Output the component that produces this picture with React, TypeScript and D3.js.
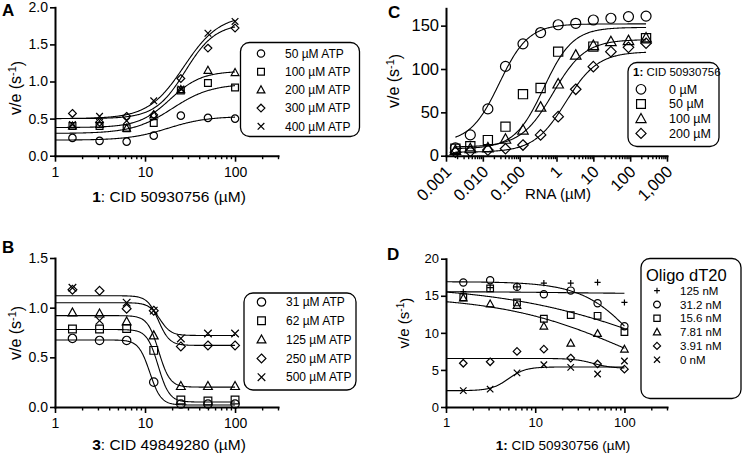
import React, { useRef, useEffect } from 'react';
import * as d3 from 'd3';

const FONT = '"Liberation Sans", Arial, Helvetica, sans-serif';

// compound doses (µM) used in A, B and D
const cidDoses = [1.5625, 3.125, 6.25, 12.5, 25, 50, 100];
// RNA doses (µM) used in C
const rnaDoses = [0.0018, 0.00457, 0.0137, 0.0412, 0.123, 0.37, 1.11, 3.33, 10, 30, 90, 270];

// ---- Panel A ----
const aNames = ['50 µM ATP', '100 µM ATP', '200 µM ATP', '300 µM ATP', '400 µM ATP'];
const aAtp50 = [0.24, 0.2, 0.19, 0.27, 0.54, 0.51, 0.5];
const aAtp100 = [0.4, 0.4, 0.37, 0.44, 0.88, 0.98, 0.92];
const aAtp200 = [0.4, 0.42, 0.37, 0.55, 0.89, 1.15, 1.12];
const aAtp300 = [0.57, 0.45, 0.53, 0.55, 1.04, 1.45, 1.72];
const aAtp400 = [0.42, 0.53, 0.47, 0.74, 0.9, 1.65, 1.81];
// fit curves: [value at low dose, value at high dose, midpoint, hill]
const aFits = [[0.21, 0.53, 18, 2], [0.3, 0.97, 20, 2], [0.38, 1.14, 19, 2.5], [0.5, 1.78, 28, 2.6], [0.5, 1.9, 27, 2.2]];
const aTicks = [0, 0.5, 1, 1.5, 2];

// ---- Panel B ----
const bNames = ['31 µM ATP', '62 µM ATP', '125 µM ATP', '250 µM ATP', '500 µM ATP'];
const bAtp31 = [0.69, 0.67, 0.67, 0.25, 0.03, 0.03, 0.03];
const bAtp62 = [0.785, 0.785, 0.79, 0.57, 0.07, 0.06, 0.07];
const bAtp125 = [0.95, 0.94, 0.86, 0.72, 0.21, 0.21, 0.21];
const bAtp250 = [1.18, 1.17, 0.99, 0.97, 0.61, 0.62, 0.62];
const bAtp500 = [1.2, 0.87, 1.05, 0.97, 0.69, 0.74, 0.74];
const bFits = [[0.675, 0.02, 11.3, 7], [0.78, 0.05, 14, 7], [0.92, 0.2, 14.2, 7], [1.12, 0.62, 14.1, 7], [1.05, 0.72, 14.6, 7]];
const bTicks = [0, 0.5, 1, 1.5];

// ---- Panel C ----
const cNames = ['0 µM', '50 µM', '100 µM', '200 µM'];
const cCid0 = [9, 24, 54, 103, 129, 142, 151, 152.7, 156.5, 158.5, 160.4, 161];
const cCid50 = [8, 11, 18, 33.5, 71, 78, 120, null, 125.8, null, null, 135.5];
const cCid100 = [6, 8, 9, 19, 29.6, 56, 82.7, 116, 127, 131.5, 132.7, 135.8];
const cCid200 = [4, 5, 6.5, 8, 12.3, 24, 45, 76.6, 102.7, 120, 125, 129.7];
const cFits = [[15, 152, 0.028, 1.1], [8, 148, 0.45, 1.1], [10, 134, 0.8, 1.0], [4, 120, 1.8, 1.0]];
const cTicks = [0, 50, 100, 150];

// ---- Panel D ----
const dNames = ['125 nM', '31.2 nM', '15.6 nM', '7.81 nM', '3.91 nM', '0 nM'];
const dOligo125 = [15.55, 16.1, 16.2, 16.7, 16.7, 16.8, 14.1];
const dOligo31 = [16.8, 17.1, 16.2, 15.2, 15.7, 14.0, 10.9];
const dOligo15 = [14.8, 16.0, 14.1, 11.9, 12.4, 12.3, 10.1];
const dOligo7 = [14.7, 13.9, 13.7, 10.9, 8.6, 9.9, 7.8];
const dOligo3 = [5.9, 6.1, 7.5, 7.8, 6.6, 5.8, 5.1];
const dOligo0 = [2.2, 2.4, 4.6, 5.7, 5.35, 4.45, 6.2];
const dFits = [[15.55, 15.3, 20, 1], [16.9, 0, 153, 1.4], [16.5, 0, 347, 0.47], [15, 0, 121, 0.6], [6.55, 5.2, 45, 4], [2.2, 5.4, 5, 4.5]];
const dTicks = [0, 5, 10, 15, 20];

const markerPath = (shape: string, r: number) => {
  switch (shape) {
    case 'circle':
      return `M${r},0A${r},${r},0,1,1,${-r},0A${r},${r},0,1,1,${r},0Z`;
    case 'square':
      return `M${-r * 0.92},${-r * 0.92}H${r * 0.92}V${r * 0.92}H${-r * 0.92}Z`;
    case 'triangle':
      return `M0,${-r * 1.1}L${r * 1.05},${r * 0.8}L${-r * 1.05},${r * 0.8}Z`;
    case 'diamond':
      return `M0,${-r * 1.05}L${r * 1.05},0L0,${r * 1.05}L${-r * 1.05},0Z`;
    case 'x':
      return `M${-r * 0.9},${-r * 0.9}L${r * 0.9},${r * 0.9}M${-r * 0.9},${r * 0.9}L${r * 0.9},${-r * 0.9}`;
    default:
      return `M${-r * 0.85},0H${r * 0.85}M0,${-r * 0.85}V${r * 0.85}`;
  }
};

const logFmt = (d: number) => (d >= 1 ? d3.format(',')(d) : d3.format('.3f')(d));

const panels = [
  {
    letter: 'A', letterX: 2, letterY: 16,
    left: 55, right: 278, bottom: 155.7, top: 7.3,
    xDomain: [1, 300], xMajor: [1, 10, 100], yDomain: [0, 2], yTicks: aTicks, yFmt: d3.format('.1f'),
    tickFont: 14, rotate: false,
    doses: cidDoses, series: [aAtp50, aAtp100, aAtp200, aAtp300, aAtp400], fits: aFits, fitRange: [1, 100],
    shapes: ['circle', 'square', 'triangle', 'diamond', 'x'], r: 3.7,
    yLabelX: 15, yLabelY: 88, yLabelFont: 16,
    xLabel: [['1', true], [': CID 50930756 (µM)', false]], xLabelX: 169, xLabelY: 202, xLabelFont: 15.5,
    legend: { x: 240.5, y: 42.5, w: 119, h: 94, title: null, titleFont: 0, symX: 261, textX: 285, row0: 53.5, step: 18.2, font: 12, names: aNames, r: 3.7 },
  },
  {
    letter: 'B', letterX: 2, letterY: 253,
    left: 55, right: 278, bottom: 407, top: 258,
    xDomain: [1, 300], xMajor: [1, 10, 100], yDomain: [0, 1.5], yTicks: bTicks, yFmt: d3.format('.1f'),
    tickFont: 14, rotate: false,
    doses: cidDoses, series: [bAtp31, bAtp62, bAtp125, bAtp250, bAtp500], fits: bFits, fitRange: [1, 100],
    shapes: ['circle', 'square', 'triangle', 'diamond', 'x'], r: 4.2,
    yLabelX: 15, yLabelY: 333, yLabelFont: 16,
    xLabel: [['3', true], [': CID 49849280 (µM)', false]], xLabelX: 169, xLabelY: 450, xLabelFont: 15.5,
    legend: { x: 244, y: 293, w: 112, h: 97, title: null, titleFont: 0, symX: 261.5, textX: 286, row0: 302, step: 18.8, font: 12, names: bNames, r: 4.2 },
  },
  {
    letter: 'C', letterX: 388, letterY: 18,
    left: 446, right: 667, bottom: 155.7, top: 8.3,
    xDomain: [0.001, 1000], xMajor: [0.001, 0.01, 0.1, 1, 10, 100, 1000], yDomain: [0, 170], yTicks: cTicks, yFmt: d3.format('d'),
    tickFont: 16.5, rotate: true,
    doses: rnaDoses, series: [cCid0, cCid50, cCid100, cCid200], fits: cFits, fitRange: [0.0018, 270],
    shapes: ['circle', 'square', 'triangle', 'diamond'], r: 5,
    yLabelX: 393, yLabelY: 81, yLabelFont: 16,
    xLabel: [['RNA (µM)', false]], xLabelX: 558, xLabelY: 199, xLabelFont: 15,
    legend: { x: 628, y: 62.5, w: 91, h: 84, title: [['1:', true], [' CID 50930756', false]], titleFont: 11.5, symX: 641, textX: 669, row0: 89.3, step: 14.7, font: 12.5, names: cNames, r: 4.8 },
  },
  {
    letter: 'D', letterX: 387, letterY: 260,
    left: 446, right: 667, bottom: 407, top: 258.7,
    xDomain: [1, 300], xMajor: [1, 10, 100], yDomain: [0, 20], yTicks: dTicks, yFmt: d3.format('d'),
    tickFont: 13, rotate: false,
    doses: cidDoses, series: [dOligo125, dOligo31, dOligo15, dOligo7, dOligo3, dOligo0], fits: dFits, fitRange: [1, 100],
    shapes: ['plus', 'circle', 'square', 'triangle', 'diamond', 'x'], r: 3.6,
    yLabelX: 403.5, yLabelY: 323, yLabelFont: 15,
    xLabel: [['1:', true], [' CID 50930756 (µM)', false]], xLabelX: 563, xLabelY: 450, xLabelFont: 13.5,
    legend: { x: 641, y: 258.5, w: 100, h: 140, title: [['Oligo dT20', false]], titleFont: 16.5, symX: 657, textX: 680, row0: 290.7, step: 13.8, font: 11.5, names: dNames, r: 3.4 },
  },
];

const drawPanel = (svg: any, p: any) => {
  const x = d3.scaleLog().domain(p.xDomain).range([p.left, p.right]);
  const y = d3.scaleLinear().domain(p.yDomain).range([p.bottom, p.top]);
  const g = svg.append('g');

  // minor log ticks
  const minor: number[] = [];
  const e0 = Math.floor(Math.log10(p.xDomain[0]));
  const e1 = Math.ceil(Math.log10(p.xDomain[1]));
  for (let e = e0; e <= e1; e++) {
    for (let k = 2; k <= 9; k++) {
      const v = k * Math.pow(10, e);
      if (v > p.xDomain[0] * 1.0001 && v <= p.xDomain[1] * 1.0001) minor.push(v);
    }
  }
  const xm = g.append('g').attr('transform', `translate(0,${p.bottom})`)
    .call(d3.axisBottom(x).tickValues(minor).tickSize(3.5).tickSizeOuter(0).tickFormat(() => ''));
  xm.select('.domain').remove();
  xm.selectAll('line').attr('stroke-width', 1.4);

  const xa = g.append('g').attr('transform', `translate(0,${p.bottom})`)
    .call(d3.axisBottom(x).tickValues(p.xMajor).tickSize(6).tickSizeOuter(0).tickFormat(logFmt).tickPadding(5));
  xa.attr('font-size', p.tickFont).attr('font-family', FONT);
  xa.select('.domain').attr('stroke-width', 2).attr('stroke-linecap', 'square');
  xa.selectAll('line').attr('stroke-width', 1.6);
  if (p.rotate) {
    xa.selectAll('text')
      .attr('x', 0).attr('y', 0).attr('dy', '0.35em')
      .attr('text-anchor', 'end')
      .attr('transform', 'translate(2,13) rotate(-45)');
  }

  const ya = g.append('g').attr('transform', `translate(${p.left},0)`)
    .call(d3.axisLeft(y).tickValues(p.yTicks).tickSize(5).tickSizeOuter(0).tickFormat(p.yFmt).tickPadding(2));
  ya.attr('font-size', p.tickFont).attr('font-family', FONT);
  ya.select('.domain').attr('stroke-width', 2).attr('stroke-linecap', 'square');
  ya.selectAll('line').attr('stroke-width', 1.6);

  // fitted curves
  const [lo, hi] = p.fitRange;
  const grid = d3.range(0, 241).map((i) => lo * Math.pow(hi / lo, i / 240));
  const line = d3.line<number[]>().x((d) => x(d[0])).y((d) => y(d[1]));
  p.fits.forEach((f: number[]) => {
    const [a, b, mid, h] = f;
    const pts = grid.map((v) => [v, a + (b - a) / (1 + Math.pow(mid / v, h))]);
    g.append('path').attr('d', line(pts)).attr('fill', 'none').attr('stroke', '#000').attr('stroke-width', 1.1);
  });

  // data points
  p.series.forEach((vals: (number | null)[], si: number) => {
    const pts = p.doses.map((d: number, i: number) => [d, vals[i]]).filter((d: any) => d[1] != null);
    g.append('g').selectAll('path').data(pts).enter().append('path')
      .attr('transform', (d: any) => `translate(${x(d[0])},${y(d[1])})`)
      .attr('d', markerPath(p.shapes[si], p.r))
      .attr('fill', 'none').attr('stroke', '#000').attr('stroke-width', 1.2);
  });

  // panel letter
  g.append('text').attr('x', p.letterX).attr('y', p.letterY)
    .attr('font-family', FONT).attr('font-weight', 'bold').attr('font-size', 17).text(p.letter);

  // y label
  const yl = g.append('text')
    .attr('transform', `translate(${p.yLabelX},${p.yLabelY}) rotate(-90)`)
    .attr('text-anchor', 'middle').attr('dy', '0.35em')
    .attr('font-family', FONT).attr('font-size', p.yLabelFont);
  yl.append('tspan').text('v/e (s');
  yl.append('tspan').attr('dy', '-0.45em').attr('font-size', p.yLabelFont * 0.68).text('-1');
  yl.append('tspan').attr('dy', '0.45em').text(')');

  // x label
  const xl = g.append('text').attr('x', p.xLabelX).attr('y', p.xLabelY)
    .attr('text-anchor', 'middle').attr('font-family', FONT).attr('font-size', p.xLabelFont);
  p.xLabel.forEach((part: any) => {
    xl.append('tspan').attr('font-weight', part[1] ? 'bold' : 'normal').text(part[0]);
  });

  // legend
  const L = p.legend;
  const lg = g.append('g').attr('font-family', FONT);
  lg.append('rect').attr('x', L.x).attr('y', L.y).attr('width', L.w).attr('height', L.h)
    .attr('rx', 9).attr('fill', '#fff').attr('stroke', '#000').attr('stroke-width', 1.3);
  if (L.title) {
    const t = lg.append('text').attr('x', L.x + 5).attr('y', L.row0 - L.step * 1.15).attr('dy', '0.35em')
      .attr('font-size', L.titleFont);
    L.title.forEach((part: any) => t.append('tspan').attr('font-weight', part[1] ? 'bold' : 'normal').text(part[0]));
  }
  L.names.forEach((name: string, i: number) => {
    const cy = L.row0 + i * L.step;
    lg.append('path').attr('transform', `translate(${L.symX},${cy})`)
      .attr('d', markerPath(p.shapes[i], L.r)).attr('fill', 'none').attr('stroke', '#000').attr('stroke-width', 1.2);
    lg.append('text').attr('x', L.textX).attr('y', cy).attr('dy', '0.35em').attr('font-size', L.font).text(name);
  });
};

const App = () => {
  const chartRef = useRef<SVGSVGElement>(null);

  useEffect(() => {
    const svg = d3.select(chartRef.current);
    svg.selectAll('*').remove();
    panels.forEach((p) => drawPanel(svg, p));
  }, []);

  return (
    <svg
      ref={chartRef}
      width={745}
      height={457}
      style={{ position: 'absolute', left: 0, top: 0, background: '#fff' }}
    />
  );
};

export default App;
